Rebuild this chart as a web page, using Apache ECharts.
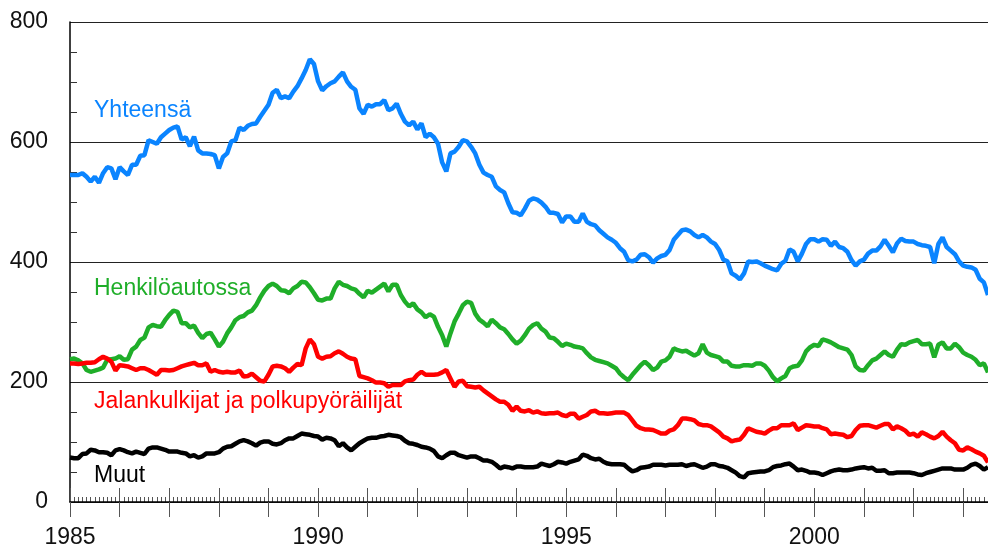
<!DOCTYPE html>
<html>
<head>
<meta charset="utf-8">
<script src="https://cdn.jsdelivr.net/npm/echarts@6/dist/echarts.min.js"></script>
<style>
  html, body { margin: 0; padding: 0; background: #fff; }
  #chart { width: 988px; height: 546px; }
</style>
</head>
<body>
<div id="chart"></div>
<script>
//  Data (12 month moving totals, monthly from Jan 1985)

var startYear = 1985;
var yearLabels = ['1985', '1990', '1995', '2000'];
var seriesNames = ['Yhteensä', 'Henkilöautossa', 'Jalankulkijat ja polkupyöräilijät', 'Muut'];

var yhteensa = [
  545,545,545,548,542,534,542,532,548,558,
  556,538,558,551,545,562,562,577,578,603,
  600,597,608,614,620,624,626,604,608,593,
  609,586,581,581,580,578,556,575,581,601,
  603,624,620,627,630,631,642,652,662,682,
  687,673,676,673,684,693,706,720,738,730,
  701,686,693,698,701,709,716,701,692,687,
  656,647,662,659,663,663,670,653,656,664,
  647,634,628,634,621,631,608,614,608,597,
  566,551,581,584,592,603,601,592,581,562,
  549,545,542,526,520,516,498,483,482,478,
  489,502,506,504,499,492,482,482,480,466,
  476,476,467,467,481,467,463,461,453,447,
  441,437,432,423,417,403,401,404,412,413,
  408,399,406,410,412,420,437,445,453,454,
  451,445,441,445,441,434,430,420,404,401,
  381,377,371,381,401,400,401,398,394,391,
  388,386,397,402,421,417,401,414,430,438,
  438,434,438,437,427,434,425,423,417,403,
  394,401,404,414,419,419,426,437,427,416,
  431,439,435,434,434,430,428,427,425,398,
  430,441,425,419,413,401,394,392,391,387,
  372,366,345
];

var henkiloautossa = [
  238,239,236,231,220,217,219,221,224,237,
  238,239,243,237,238,254,259,270,274,291,
  295,293,292,303,312,319,317,298,298,291,
  294,282,273,280,282,271,259,267,281,291,
  303,308,310,316,319,328,341,352,360,364,
  360,353,352,348,356,360,367,366,358,348,
  337,336,339,339,356,367,362,360,356,354,
  347,341,352,349,354,359,364,351,362,362,
  345,334,326,331,321,316,308,313,309,292,
  278,259,281,301,314,328,334,332,314,304,
  299,293,304,298,291,288,280,271,264,269,
  278,289,295,298,289,284,274,273,267,260,
  264,262,259,258,256,248,241,237,235,233,
  231,227,223,214,208,203,212,220,228,234,
  228,220,224,234,236,242,256,253,251,252,
  248,244,248,263,249,245,243,241,234,234,
  227,226,226,228,228,227,231,231,227,219,
  208,201,206,210,223,226,227,236,251,258,
  262,260,271,269,266,262,258,256,254,245,
  226,220,219,228,236,239,245,251,245,242,
  254,263,262,266,268,270,263,263,264,241,
  262,266,256,256,264,258,249,245,242,237,
  228,231,216
];

var jalankulkijat = [
  231,231,230,231,232,232,233,238,242,239,
  234,219,228,227,226,223,220,223,223,220,
  216,212,220,220,219,220,223,226,228,230,
  232,228,228,231,217,220,217,216,217,216,
  216,219,209,210,214,208,202,201,212,226,
  227,226,223,217,224,230,228,256,271,263,
  242,239,242,243,248,251,247,242,239,238,
  210,208,206,203,199,199,198,192,195,195,
  195,201,203,204,212,217,212,212,212,213,
  216,220,206,192,201,202,193,192,191,192,
  186,181,176,171,167,167,162,152,159,152,
  151,153,149,151,148,147,148,148,149,145,
  143,147,147,139,142,145,151,152,148,148,
  147,148,149,149,149,145,136,127,123,121,
  121,120,117,114,114,119,121,128,139,139,
  138,136,130,128,128,126,121,116,109,106,
  101,103,104,112,123,120,117,116,114,119,
  123,123,128,128,128,131,120,124,128,127,
  126,126,123,121,113,114,113,112,108,110,
  120,127,128,128,126,124,127,130,130,121,
  126,123,119,112,114,109,116,113,109,106,
  110,117,109,103,98,87,86,91,88,84,
  81,77,66
];

var muut = [
  74,73,73,80,81,87,86,83,83,82,
  78,86,88,86,83,81,84,82,80,89,
  91,91,89,87,84,84,84,82,81,76,
  78,74,76,81,81,81,83,89,92,93,
  97,101,103,101,98,94,99,101,101,97,
  96,98,103,106,106,110,114,113,112,110,
  109,104,107,106,103,93,98,91,86,92,
  98,102,106,107,107,109,110,112,111,110,
  108,102,98,97,95,92,91,89,85,76,
  73,78,82,82,78,76,74,76,76,73,
  69,69,67,62,56,59,58,56,59,59,
  58,58,58,59,64,62,60,63,67,66,
  64,67,69,71,79,77,73,71,72,67,
  64,63,63,63,62,56,51,53,57,58,
  59,62,62,62,61,62,62,62,63,60,
  62,63,60,57,59,63,63,60,59,57,
  53,49,43,41,48,49,50,51,51,53,
  58,60,61,63,64,59,53,54,52,49,
  49,48,45,48,51,53,54,53,53,54,
  56,57,58,56,57,52,52,53,48,48,
  49,49,49,49,48,46,45,48,50,52,
  54,56,56,56,54,54,54,57,62,64,
  60,54,58
];

var months = [];
for (var i = 0; i < yhteensa.length; i++) {
  months.push((startYear + Math.floor(i / 12)) + '-' + (i % 12 + 1));
}

var colors = ['#0a84ff', '#1fae29', '#ff0000', '#000000'];
var fontFamily = '"Liberation Sans", Arial, sans-serif';

//  Chart

var myChart = echarts.init(document.getElementById('chart'));

function isYearStart(index) {
  return index % 12 === 0;
}

// three bottom axes on top of each other: labels + long ticks below,
// long ticks above, short monthly ticks above
var option = {
  animation: false,
  backgroundColor: '#fff',
  grid: { left: 70, right: 0, top: 22, bottom: 44, outerBoundsMode: 'none' },
  xAxis: [{
    type: 'category',
    position: 'bottom',
    data: months,
    boundaryGap: false,
    z: 5,
    axisLine: { lineStyle: { color: '#000', width: 1.5 } },
    axisTick: { interval: isYearStart, length: 15, lineStyle: { color: '#555', width: 1 } },
    axisLabel: {
      interval: function(index, value) {
        return isYearStart(index) && yearLabels.indexOf(value.split('-')[0]) >= 0;
      },
      formatter: function(value) { return value.split('-')[0]; },
      margin: 24,
      fontSize: 23,
      color: '#111',
      fontFamily: fontFamily
    },
    splitLine: { show: false }
  }, {
    type: 'category',
    position: 'bottom',
    data: months,
    boundaryGap: false,
    axisLine: { show: false },
    axisTick: { interval: isYearStart, inside: true, length: 14, lineStyle: { color: '#555', width: 1 } },
    axisLabel: { show: false },
    splitLine: { show: false }
  }, {
    type: 'category',
    position: 'bottom',
    data: months,
    boundaryGap: false,
    axisLine: { show: false },
    axisTick: { interval: 0, inside: true, length: 5, lineStyle: { color: '#555', width: 1 } },
    axisLabel: { show: false },
    splitLine: { show: false }
  }],
  yAxis: {
    type: 'value',
    min: 0,
    max: 800,
    interval: 200,
    axisLine: { show: true, lineStyle: { color: '#000', width: 1.5 } },
    axisTick: { show: false, inside: true },
    minorTick: { show: true, splitNumber: 4, length: 7, lineStyle: { color: '#333', width: 1 } },
    axisLabel: { margin: 22, fontSize: 23, color: '#111', fontFamily: fontFamily },
    splitLine: { lineStyle: { color: '#222', width: 1 } }
  },
  series: [yhteensa, henkiloautossa, jalankulkijat, muut].map(function(data, k) {
    return {
      name: seriesNames[k],
      type: 'line',
      data: data,
      showSymbol: false,
      color: colors[k],
      lineStyle: { width: 4.5, color: colors[k] }
    };
  }),
  graphic: [
    { type: 'text', left: 94, top: 99, style: { text: seriesNames[0], fill: colors[0], font: '23px ' + fontFamily } },
    { type: 'text', left: 94, top: 277, style: { text: seriesNames[1], fill: colors[1], font: '23px ' + fontFamily } },
    { type: 'text', left: 94, top: 390, style: { text: seriesNames[2], fill: colors[2], font: '23px ' + fontFamily } },
    { type: 'text', left: 94, top: 464, style: { text: seriesNames[3], fill: colors[3], font: '23px ' + fontFamily } }
  ]
};

myChart.setOption(option);
</script>
</body>
</html>
